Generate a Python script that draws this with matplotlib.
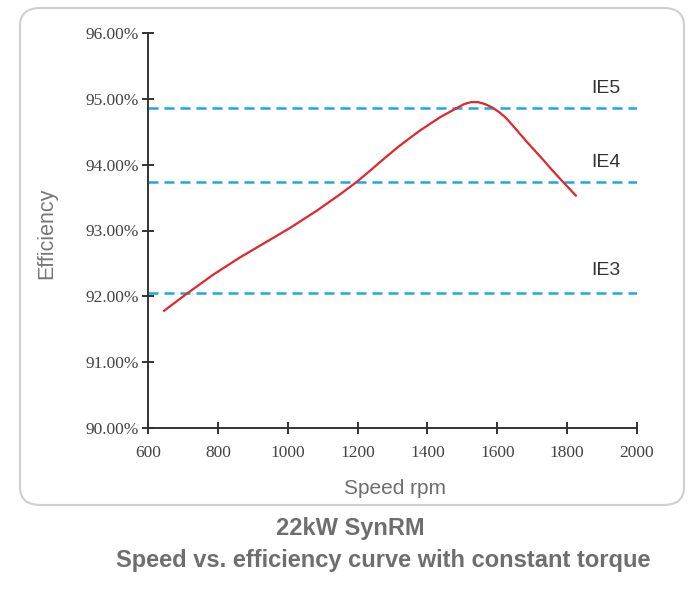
import matplotlib
matplotlib.use('Agg')
import matplotlib.pyplot as plt
from matplotlib.patches import FancyBboxPatch

# 曲线数据（转速 rpm, 效率 %）
speed = [646, 711, 787, 863, 940, 1007, 1083, 1150, 1198, 1236, 1280, 1321,
         1379, 1436, 1484, 1505, 1525, 1545, 1565, 1585, 1605, 1625, 1650,
         1684, 1708, 1732, 1755, 1779, 1802, 1825]
eff = [91.78, 92.04, 92.33, 92.59, 92.83, 93.04, 93.30, 93.55, 93.74, 93.91,
       94.11, 94.29, 94.52, 94.72, 94.86, 94.92, 94.95, 94.95, 94.92, 94.87,
       94.80, 94.71, 94.56, 94.35, 94.21, 94.07, 93.93, 93.79, 93.66, 93.53]

# IE 等级线
ie_names = ['IE5', 'IE4', 'IE3']
ie_levels = [94.86, 93.74, 92.05]
ie_label_y = [95.15, 94.04, 92.39]

x_ticks = [600, 800, 1000, 1200, 1400, 1600, 1800, 2000]
y_ticks = [90, 91, 92, 93, 94, 95, 96]

sans = 'Liberation Sans'
serif = 'Liberation Serif'

fig = plt.figure(figsize=(6.94, 5.9), dpi=100)

# 圆角边框
box = FancyBboxPatch((20 / 694, 1 - 505 / 590), 664 / 694, 497 / 590,
                     boxstyle='round,pad=0,rounding_size=0.03',
                     transform=fig.transFigure, facecolor='white',
                     edgecolor='#cfcfcf', linewidth=1.5, zorder=-1)
fig.patches.append(box)

ax = fig.add_axes([148 / 694, 1 - 428 / 590, 489 / 694, 395 / 590])
ax.set_zorder(1)
ax.patch.set_alpha(0)

for name, lv in zip(ie_names, ie_levels):
    ax.plot([600, 2000], [lv, lv], color='#1ba9e1', linewidth=1.8,
            linestyle=(0, (4, 2.4)), zorder=2)
for name, ly in zip(ie_names, ie_label_y):
    ax.text(1911, ly, name, ha='center', va='center', fontsize=14,
            family=sans, color='#333333')

ax.plot(speed, eff, color='#e0262e', linewidth=1.6, zorder=3,
        solid_joinstyle='round')

ax.set_xlim(600, 2000)
ax.set_ylim(90, 96)
ax.set_xticks(x_ticks)
ax.set_yticks(y_ticks)
ax.set_yticklabels(['%.2f%%' % v for v in y_ticks])
for s in ['top', 'right']:
    ax.spines[s].set_visible(False)
for s in ['left', 'bottom']:
    ax.spines[s].set_color('#333333')
    ax.spines[s].set_linewidth(1.4)
ax.tick_params(direction='inout', length=9, width=1.4, color='#333333',
               labelcolor='#444444', labelsize=12.5)
ax.tick_params(axis='x', pad=8)
ax.tick_params(axis='y', pad=2)
for lab in ax.get_xticklabels() + ax.get_yticklabels():
    lab.set_family(serif)

fig.text(47 / 694, 1 - 233 / 590, 'Efficiency', rotation=90, ha='center',
         va='center', fontsize=15.5, family=sans, color='#777777')
fig.text(395 / 694, 1 - 488 / 590, 'Speed rpm', ha='center', va='center',
         fontsize=15, family=sans, color='#6e6e6e')
fig.text(350 / 694, 1 - 528 / 590, '22kW SynRM', ha='center', va='center',
         fontsize=17, family=sans, weight='bold', color='#6e6e6e')
fig.text(383 / 694, 1 - 561 / 590,
         'Speed vs. efficiency curve with constant torque', ha='center',
         va='center', fontsize=17, family=sans, weight='bold',
         color='#6e6e6e')

fig.savefig('out.png', dpi=100)
